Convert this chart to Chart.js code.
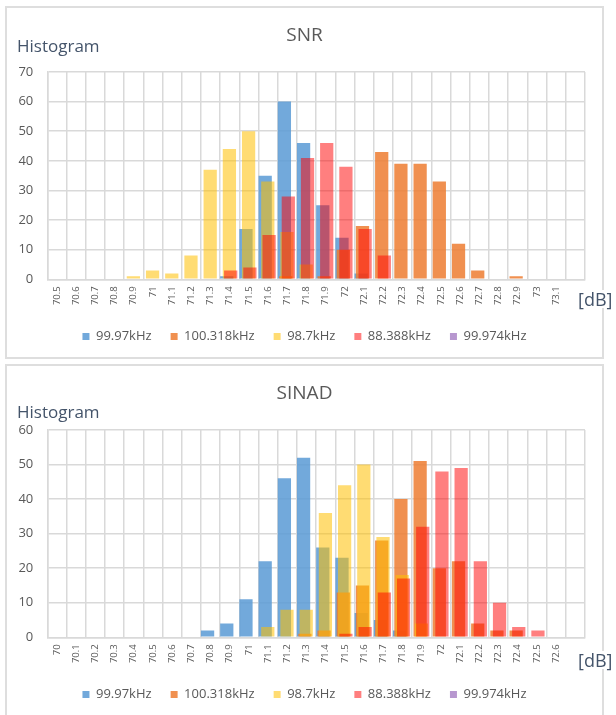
<!DOCTYPE html>
<html>
<head>
<meta charset="utf-8">
<script src="https://cdn.jsdelivr.net/npm/chart.js@4/dist/chart.umd.min.js"></script>
<style>
  html, body { margin: 0; padding: 0; background: #fff; width: 616px; height: 715px; overflow: hidden; font-family: 'Open Sans', sans-serif; }
  .box { position: absolute; left: 5px; width: 595px; height: 349px; border: 2px solid #DEDEDE; background: #fff; }
  .box canvas { position: absolute; left: 0; top: 0; }
  .ytitle { position: absolute; left: 17px; font-size: 17px; line-height: 1; color: #44546A; white-space: nowrap; }
  .unit { position: absolute; left: 577px; font-size: 18px; line-height: 1; color: #44546A; background: #fff; padding: 0 1px; white-space: nowrap; }
</style>
</head>
<body>
<div class="box" style="top:6px"><canvas id="snr" width="595" height="349"></canvas></div>
<div class="box" style="top:364px"><canvas id="sinad" width="595" height="349"></canvas></div>
<div class="ytitle" style="top:37px">Histogram</div>
<div class="ytitle" style="top:403px">Histogram</div>
<div class="unit" style="top:290px">[dB]</div>
<div class="unit" style="top:651px">[dB]</div>
<script>
// Series names (legend) and bin labels
const seriesNames = ['99.97kHz', '100.318kHz', '98.7kHz', '88.388kHz', '99.974kHz'];

const snrLabels = ['70.5','70.6','70.7','70.8','70.9','71','71.1','71.2','71.3','71.4','71.5','71.6','71.7','71.8','71.9',
                   '72','72.1','72.2','72.3','72.4','72.5','72.6','72.7','72.8','72.9','73','73.1',''];
const snr99_97   = [0,0,0,0,0, 0,0,0,0,1, 17,35,60,46,25, 14,2,0,0,0, 0,0,0,0,0, 0,0,0];
const snr100_318 = [0,0,0,0,0, 0,0,0,0,0, 0,0,1,0,1, 10,18,43,39,39, 33,12,3,0,1, 0,0,0];
const snr98_7    = [0,0,0,0,1, 3,2,8,37,44, 50,33,16,5,0, 0,0,0,0,0, 0,0,0,0,0, 0,0,0];
const snr88_388  = [0,0,0,0,0, 0,0,0,0,3, 4,15,28,41,46, 38,17,8,0,0, 0,0,0,0,0, 0,0,0];
const snr99_974  = [0,0,0,0,0, 0,0,0,0,0, 0,0,0,0,0, 0,0,0,0,0, 0,0,0,0,0, 0,0,0];
const snrYMax = 70;

const sinadLabels = ['70','70.1','70.2','70.3','70.4','70.5','70.6','70.7','70.8','70.9',
                     '71','71.1','71.2','71.3','71.4','71.5','71.6','71.7','71.8','71.9',
                     '72','72.1','72.2','72.3','72.4','72.5','72.6',''];
const sinad99_97   = [0,0,0,0,0, 0,0,0,2,4, 11,22,46,52,26, 23,7,5,2,0, 0,0,0,0,0, 0,0,0];
const sinad100_318 = [0,0,0,0,0, 0,0,0,0,0, 0,0,0,1,2, 13,15,28,40,51, 20,22,4,2,2, 0,0,0];
const sinad98_7    = [0,0,0,0,0, 0,0,0,0,0, 0,3,8,8,36, 44,50,29,18,4, 0,0,0,0,0, 0,0,0];
const sinad88_388  = [0,0,0,0,0, 0,0,0,0,0, 0,0,0,0,0, 1,3,13,17,32, 48,49,22,10,3, 2,0,0];
const sinad99_974  = [0,0,0,0,0, 0,0,0,0,0, 0,0,0,0,0, 0,0,0,0,0, 0,0,0,0,0, 0,0,0];
const sinadYMax = 60;

// Semi-transparent fills so overlapping bars blend
const fills = [
  'rgba(91,155,213,0.86)',
  'rgba(237,125,49,0.85)',
  'rgba(255,192,0,0.55)',
  'rgba(255,0,0,0.5)',
  'rgba(112,48,160,0.5)'
];
// Each series is nudged sideways inside its bin (fraction of a bin)
const binShift = [-0.154, -0.086, -0.018, 0.05, 0.118];

const textGray = '#595959';
const gridGray = '#D9D9D9';
const FONT = "'Open Sans', sans-serif";

function buildChart(canvasId, title, labels, seriesValues, yMax) {
  const n = labels.length;
  const scales = {
    x: {
      type: 'category', labels: labels, min: 0, max: n - 1, offset: true,
      grid: { offset: true, color: gridGray, lineWidth: 1.5, drawTicks: false },
      border: { color: gridGray, width: 1.5 },
      ticks: { autoSkip: false, minRotation: 90, maxRotation: 90, padding: 7, color: textGray,
               font: { family: FONT, size: 9.5 } },
      afterFit: (s) => { s.height = 31.7; }
    },
    y: {
      type: 'linear', min: 0, max: yMax,
      grid: { color: gridGray, lineWidth: 1.5, drawTicks: false },
      border: { color: gridGray, width: 1.5 },
      ticks: { stepSize: 10, padding: 14, color: textGray, font: { family: FONT, size: 13 } },
      afterFit: (s) => { s.width = 40.3; }
    },
    // empty right-hand strip so the plot ends short of the frame
    rightGap: {
      type: 'linear', position: 'right', display: true,
      grid: { display: false, drawTicks: false }, border: { display: false },
      ticks: { display: false },
      afterFit: (s) => { s.width = 17; }
    }
  };
  seriesValues.forEach((vals, k) => {
    scales['s' + k] = {
      type: 'linear', axis: 'x', position: 'bottom', display: false, offset: false,
      min: -0.5 - binShift[k], max: n - 0.5 - binShift[k],
      ticks: { stepSize: 1 }
    };
  });

  const datasets = seriesValues.map((vals, k) => ({
    label: seriesNames[k],
    data: vals.map((v, i) => ({ x: i, y: v })),
    xAxisID: 's' + k,
    backgroundColor: fills[k],
    borderWidth: 0,
    grouped: false,
    categoryPercentage: 1,
    barPercentage: 0.69,
    order: seriesValues.length - 1 - k
  }));

  return new Chart(document.getElementById(canvasId), {
    type: 'bar',
    data: { labels: labels, datasets: datasets },
    options: {
      responsive: false,
      animation: false,
      events: [],
      layout: { padding: { left: 0, right: 0, top: 0, bottom: 4 } },
      scales: scales,
      plugins: {
        title: {
          display: true, text: title, color: textGray,
          font: { family: FONT, size: 19, weight: 'normal' },
          padding: { top: 16.3, bottom: 24.9 }
        },
        legend: {
          position: 'bottom',
          labels: {
            boxWidth: 7, boxHeight: 7, padding: 19, color: textGray,
            font: { family: FONT, size: 13 },
            sort: (a, b) => a.datasetIndex - b.datasetIndex
          }
        },
        tooltip: { enabled: false }
      }
    }
  });
}

buildChart('snr', 'SNR', snrLabels, [snr99_97, snr100_318, snr98_7, snr88_388, snr99_974], snrYMax);
buildChart('sinad', 'SINAD', sinadLabels, [sinad99_97, sinad100_318, sinad98_7, sinad88_388, sinad99_974], sinadYMax);
</script>
</body>
</html>
